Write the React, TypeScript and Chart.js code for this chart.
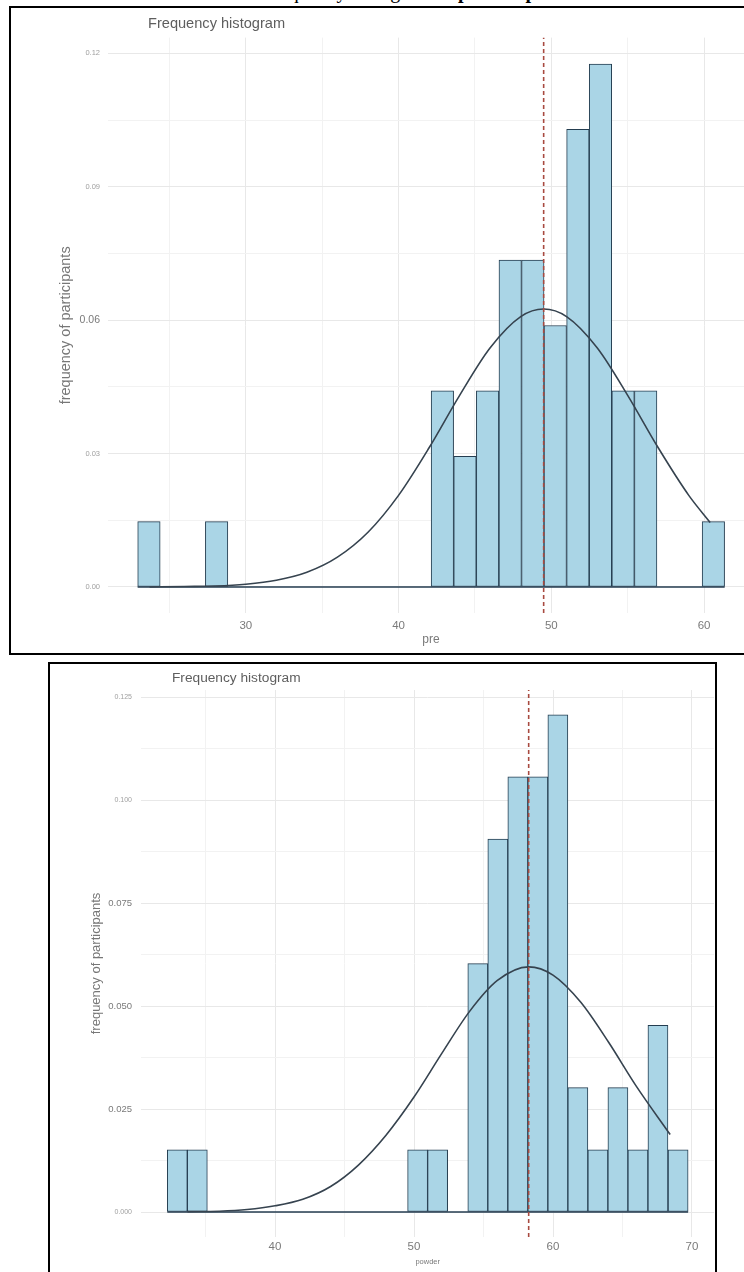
import React, { useEffect, useRef } from 'react';
import { Chart, registerables } from 'chart.js';

Chart.register(...registerables);

// ---------------- data: "pre" histogram ----------------
const PRE_BIN_CENTERS = [
  23.66, 25.14, 26.62, 28.09, 29.57, 31.05, 32.53, 34.01, 35.48, 36.96, 38.44, 39.92, 41.4,
  42.87, 44.35, 45.83, 47.31, 48.79, 50.26, 51.74, 53.22, 54.7, 56.18, 57.65, 59.13, 60.61,
];
const PRE_DENSITY = [
  0.0147, 0, 0, 0.0147, 0, 0, 0, 0, 0, 0, 0, 0, 0,
  0.0441, 0.0294, 0.0441, 0.0735, 0.0735, 0.0588, 0.1029, 0.1176, 0.0441, 0.0441, 0, 0, 0.0147,
];
const PRE_BIN_EDGES = [22.92, 61.35];
const PRE_MEAN = 49.5;
const PRE_CURVE_X = [23.7, 26, 28, 30, 32, 34, 36, 38, 40, 42, 44, 46, 48, 49.5, 51, 53, 55, 57, 59, 60.4];
const PRE_CURVE_Y = [
  0.0, 0.0001, 0.0002, 0.0006, 0.0015, 0.0033, 0.0067, 0.0123, 0.0206, 0.0313, 0.0431, 0.0538,
  0.0608, 0.0625, 0.0608, 0.0538, 0.0431, 0.0313, 0.0206, 0.0145,
];
const PRE_X_LABELS = ['30', '40', '50', '60'];
const PRE_Y_LABELS = ['0.00', '0.03', '0.06', '0.09', '0.12'];
const PRE_Y_LABELS_LARGE = ['0.06'];
const PRE_X_LIMITS = [20.98, 63.27];
const PRE_Y_LIMITS = [-0.00588, 0.12355];

// ---------------- data: "powder" histogram ----------------
const POWDER_BIN_CENTERS = [
  32.97, 34.41, 35.85, 37.29, 38.73, 40.18, 41.62, 43.06, 44.5, 45.94, 47.38, 48.82, 50.26,
  51.7, 53.14, 54.59, 56.03, 57.47, 58.91, 60.35, 61.79, 63.23, 64.67, 66.11, 67.55, 69.0,
];
const POWDER_DENSITY = [
  0.0151, 0.0151, 0, 0, 0, 0, 0, 0, 0, 0, 0, 0, 0.0151,
  0.0151, 0, 0.0603, 0.0905, 0.1056, 0.1056, 0.1207, 0.0302, 0.0151, 0.0302, 0.0151, 0.0453, 0.0151,
];
const POWDER_BIN_EDGES = [32.25, 69.72];
const POWDER_MEAN = 58.25;
const POWDER_CURVE_X = [33.7, 36, 38, 40, 42, 44, 46, 48, 50, 52, 54, 56, 58.25, 60, 62, 64, 66, 68.43];
const POWDER_CURVE_Y = [
  0.0001, 0.0002, 0.0006, 0.0015, 0.0031, 0.0062, 0.0114, 0.0187, 0.0279, 0.0385, 0.0487,
  0.0562, 0.0595, 0.0575, 0.0509, 0.0412, 0.0305, 0.0188,
];
const POWDER_X_LABELS = ['40', '50', '60', '70'];
const POWDER_Y_LABELS = ['0.000', '0.025', '0.050', '0.075', '0.100', '0.125'];
const POWDER_Y_LABELS_LARGE = ['0.025', '0.050', '0.075'];
const POWDER_X_LIMITS = [30.38, 71.59];
const POWDER_Y_LIMITS = [-0.00604, 0.1267];

// ---------------- styles ----------------
const FONT = "'Liberation Sans', Arial, Helvetica, sans-serif";
const FILL = '#aad5e6';
const OUTLINE = '#243d50';
const CURVE = '#36434f';
const VLINE = '#a84a40';
const GRID_MAJOR = '#e8e8e8';
const GRID_MINOR = '#f2f2f2';

type Spec = {
  width: number;
  height: number;
  centers: number[];
  density: number[];
  edges: number[];
  mean: number;
  curveX: number[];
  curveY: number[];
  xLabels: string[];
  yLabels: string[];
  yLarge: string[];
  xLimits: number[];
  yLimits: number[];
  xStep: number;
  yStep: number;
  xTitle: string;
  xTitleSize: number;
  xTitlePad: number;
  xTickPad: number;
  xAxisHeight: number;
  yAxisWidth: number;
  yTickPad: number;
  yTitleSize: number;
  yTitlePad: number;
  yTickSmall: number;
  yTickLarge: number;
  padTop: number;
  padRight: number;
};

function findLabel(list: string[], v: number): string | undefined {
  return list.find((t) => Math.abs(parseFloat(t) - v) < 1e-6);
}

function buildConfig(s: Spec): any {
  const bars = s.centers.map((x, i) => ({ x, y: s.density[i] }));
  const curve = s.curveX.map((x, i) => ({ x, y: s.curveY[i] }));
  return {
    type: 'bar',
    data: {
      datasets: [
        {
          type: 'line',
          data: [
            { x: s.mean, y: s.yLimits[0] },
            { x: s.mean, y: s.yLimits[1] },
          ],
          borderColor: VLINE,
          borderWidth: 1.6,
          borderDash: [4, 3],
          pointRadius: 0,
          order: 0,
        },
        {
          type: 'line',
          data: curve,
          borderColor: CURVE,
          borderWidth: 1.6,
          pointRadius: 0,
          cubicInterpolationMode: 'monotone',
          order: 1,
        },
        {
          type: 'line',
          data: [
            { x: s.edges[0], y: 0 },
            { x: s.edges[1], y: 0 },
          ],
          borderColor: OUTLINE,
          borderWidth: 1.4,
          pointRadius: 0,
          order: 2,
        },
        {
          type: 'bar',
          data: bars,
          backgroundColor: FILL,
          borderColor: OUTLINE,
          borderWidth: 1,
          borderSkipped: false,
          barPercentage: 1,
          categoryPercentage: 1,
          order: 3,
        },
      ],
    },
    options: {
      responsive: false,
      animation: false,
      events: [],
      layout: { padding: { top: s.padTop, right: s.padRight, left: 0, bottom: 0 } },
      plugins: { legend: { display: false }, tooltip: { enabled: false }, title: { display: false } },
      scales: {
        x: {
          type: 'linear',
          min: s.xLimits[0],
          max: s.xLimits[1],
          offset: false,
          border: { display: false },
          grid: {
            offset: false,
            drawTicks: false,
            lineWidth: 1,
            color: (ctx: any) =>
              ctx.tick && findLabel(s.xLabels, ctx.tick.value) ? GRID_MAJOR : GRID_MINOR,
          },
          ticks: {
            stepSize: s.xStep,
            includeBounds: false,
            autoSkip: false,
            maxRotation: 0,
            padding: s.xTickPad,
            color: '#7a7a7a',
            font: { family: FONT, size: 11.5 },
            callback: (v: number) => findLabel(s.xLabels, v) ?? '',
          },
          title: {
            display: true,
            text: s.xTitle,
            color: '#7a7a7a',
            font: { family: FONT, size: s.xTitleSize },
            padding: { top: 0, bottom: s.xTitlePad },
          },
          afterFit: (scale: any) => {
            scale.height = s.xAxisHeight;
          },
        },
        y: {
          type: 'linear',
          min: s.yLimits[0],
          max: s.yLimits[1],
          border: { display: false },
          grid: {
            drawTicks: false,
            lineWidth: 1,
            color: (ctx: any) =>
              ctx.tick && findLabel(s.yLabels, ctx.tick.value) ? GRID_MAJOR : GRID_MINOR,
          },
          ticks: {
            stepSize: s.yStep,
            includeBounds: false,
            autoSkip: false,
            padding: s.yTickPad,
            color: (ctx: any) =>
              ctx.tick && findLabel(s.yLarge, ctx.tick.value) ? '#7a7a7a' : '#a0a0a0',
            font: (ctx: any) => ({
              family: FONT,
              size: ctx.tick && findLabel(s.yLarge, ctx.tick.value) ? s.yTickLarge : s.yTickSmall,
            }),
            callback: (v: number) => findLabel(s.yLabels, v) ?? '',
          },
          title: {
            display: true,
            text: 'frequency of participants',
            color: '#777777',
            font: { family: FONT, size: s.yTitleSize },
            padding: { top: s.yTitlePad, bottom: 0 },
          },
          afterFit: (scale: any) => {
            scale.width = s.yAxisWidth;
          },
        },
      },
    },
  };
}

function Histogram({ spec, left, top }: { spec: Spec; left: number; top: number }) {
  const ref = useRef<HTMLCanvasElement>(null);
  useEffect(() => {
    if (!ref.current) return;
    const chart = new Chart(ref.current, buildConfig(spec));
    return () => chart.destroy();
  }, [spec]);
  return (
    <canvas
      ref={ref}
      width={spec.width}
      height={spec.height}
      style={{ position: 'absolute', left, top, width: spec.width, height: spec.height }}
    />
  );
}

const PRE_SPEC: Spec = {
  width: 743,
  height: 645,
  centers: PRE_BIN_CENTERS,
  density: PRE_DENSITY,
  edges: PRE_BIN_EDGES,
  mean: PRE_MEAN,
  curveX: PRE_CURVE_X,
  curveY: PRE_CURVE_Y,
  xLabels: PRE_X_LABELS,
  yLabels: PRE_Y_LABELS,
  yLarge: PRE_Y_LABELS_LARGE,
  xLimits: PRE_X_LIMITS,
  yLimits: PRE_Y_LIMITS,
  xStep: 5,
  yStep: 0.015,
  xTitle: 'pre',
  xTitleSize: 12,
  xTitlePad: 5.8,
  xTickPad: 6,
  xAxisHeight: 39.9,
  yAxisWidth: 97,
  yTickPad: 8,
  yTitleSize: 14.5,
  yTitlePad: 46.3,
  yTickSmall: 7.5,
  yTickLarge: 10.5,
  padTop: 29.6,
  padRight: 0,
};

const POWDER_SPEC: Spec = {
  width: 665,
  height: 608,
  centers: POWDER_BIN_CENTERS,
  density: POWDER_DENSITY,
  edges: POWDER_BIN_EDGES,
  mean: POWDER_MEAN,
  curveX: POWDER_CURVE_X,
  curveY: POWDER_CURVE_Y,
  xLabels: POWDER_X_LABELS,
  yLabels: POWDER_Y_LABELS,
  yLarge: POWDER_Y_LABELS_LARGE,
  xLimits: POWDER_X_LIMITS,
  yLimits: POWDER_Y_LIMITS,
  xStep: 5,
  yStep: 0.0125,
  xTitle: 'powder',
  xTitleSize: 7.5,
  xTitlePad: 5.5,
  xTickPad: 3.2,
  xAxisHeight: 35.1,
  yAxisWidth: 91.3,
  yTickPad: 9.3,
  yTitleSize: 13,
  yTitlePad: 38.2,
  yTickSmall: 7,
  yTickLarge: 9.5,
  padTop: 26,
  padRight: 0.9,
};

export default function App() {
  return (
    <div
      style={{
        position: 'fixed',
        left: 0,
        top: 0,
        width: 744,
        height: 1272,
        overflow: 'hidden',
        background: '#ffffff',
      }}
    >
      <div
        style={{
          position: 'absolute',
          left: 262,
          top: -19.5,
          whiteSpace: 'nowrap',
          fontFamily: "'Liberation Serif', 'Times New Roman', serif",
          fontSize: 20,
          lineHeight: '20px',
          color: '#000',
        }}
      >
        Frequency histogram of <b>pre</b> and <b>post</b>
      </div>

      <div
        style={{
          position: 'absolute',
          left: 9,
          top: 6,
          width: 800,
          height: 645,
          border: '2px solid #000',
        }}
      />
      <Histogram spec={PRE_SPEC} left={11} top={8} />
      <div
        style={{
          position: 'absolute',
          left: 148,
          top: 14,
          fontFamily: FONT,
          fontSize: 14.6,
          lineHeight: '18px',
          color: '#5e5e5e',
          whiteSpace: 'nowrap',
        }}
      >
        Frequency histogram
      </div>

      <div
        style={{
          position: 'absolute',
          left: 48,
          top: 662,
          width: 665,
          height: 700,
          border: '2px solid #000',
        }}
      />
      <Histogram spec={POWDER_SPEC} left={50} top={664} />
      <div
        style={{
          position: 'absolute',
          left: 172,
          top: 668.5,
          fontFamily: FONT,
          fontSize: 13.7,
          lineHeight: '17px',
          color: '#5e5e5e',
          whiteSpace: 'nowrap',
        }}
      >
        Frequency histogram
      </div>
    </div>
  );
}
